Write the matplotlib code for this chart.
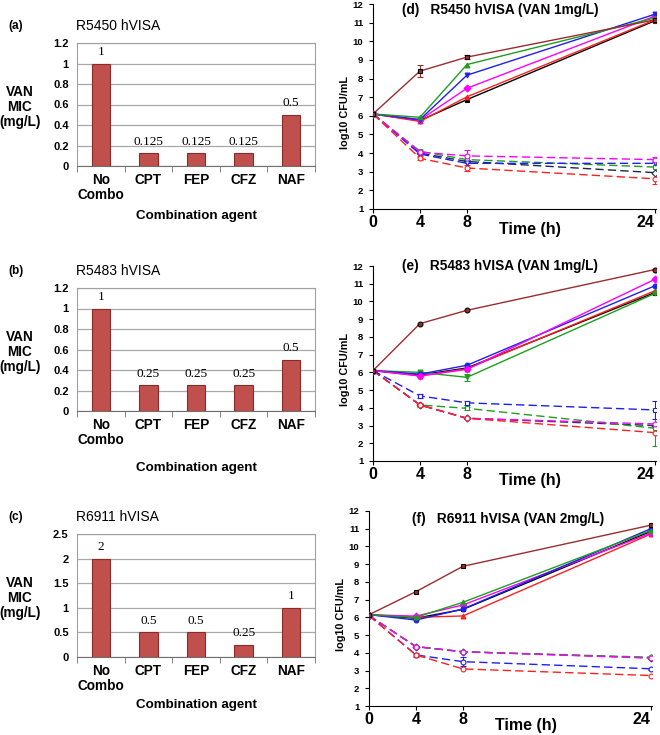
import matplotlib
matplotlib.use("Agg")
import matplotlib.pyplot as plt
import numpy as np

plt.rcParams['font.family'] = ['Liberation Sans', 'DejaVu Sans']

# ---------------- bar panel data (VAN MIC) ----------------
agents = ["No\nCombo", "CPT", "FEP", "CFZ", "NAF"]
mic_a = [1, 0.125, 0.125, 0.125, 0.5]
mic_b = [1, 0.25, 0.25, 0.25, 0.5]
mic_c = [2, 0.5, 0.5, 0.25, 1]
lab_a = ["1", "0.125", "0.125", "0.125", "0.5"]
lab_b = ["1", "0.25", "0.25", "0.25", "0.5"]
lab_c = ["2", "0.5", "0.5", "0.25", "1"]

# ---------------- time-kill data (log10 CFU/mL) ----------------
time_h = [0, 4, 8, 24]

# panel d
d_gc = [6.1, 8.4, 9.15, 11.15]
d_green = [6.1, 5.92, 8.75, 11.25]
d_blue = [6.1, 5.8, 8.18, 11.45]
d_magenta = [6.1, 5.78, 7.48, 11.35]
d_red = [6.1, 5.7, 7.02, 11.15]
d_black = [6.1, 5.75, 6.87, 11.1]
d_green_c = [6.1, 4.1, 3.65, 3.25]
d_blue_c = [6.1, 3.95, 3.45, 3.45]
d_magenta_c = [6.1, 4.05, 3.85, 3.65]
d_red_c = [6.1, 3.72, 3.2, 2.62]
d_navy_c = [6.1, 4.0, 3.55, 2.95]

# panel e
e_gc = [6.1, 8.75, 9.5, 11.8]
e_green = [6.1, 6.0, 5.72, 10.45]
e_blue = [6.1, 5.9, 6.4, 10.88]
e_magenta = [6.1, 5.8, 6.17, 11.25]
e_red = [6.1, 5.8, 6.2, 10.6]
e_black = [6.1, 5.85, 6.25, 10.5]
e_green_c = [6.1, 4.16, 3.97, 2.85]
e_blue_c = [6.1, 4.67, 4.28, 3.88]
e_magenta_c = [6.1, 4.16, 3.41, 3.09]
e_red_c = [6.1, 4.16, 3.41, 2.6]
e_navy_c = [6.1, 4.16, 3.41, 3.0]

# panel f
f_gc = [6.15, 7.45, 8.88, 11.2]
f_green = [6.15, 6.0, 6.85, 10.9]
f_blue = [6.15, 5.85, 6.47, 11.0]
f_magenta = [6.15, 6.07, 6.7, 10.75]
f_red = [6.15, 6.0, 6.08, 10.7]
f_black = [6.15, 5.95, 6.45, 10.85]
f_green_c = [6.1, 4.35, 4.06, 3.75]
f_blue_c = [6.1, 3.88, 3.5, 3.1]
f_magenta_c = [6.1, 4.35, 4.06, 3.7]
f_red_c = [6.1, 3.88, 3.09, 2.72]
f_navy_c = [6.1, 4.35, 4.06, 3.72]

# a few visible error bars
d_gc_err = [0, 0.3, 0.1, 0.1]
d_magenta_c_err = [0, 0.1, 0.3, 0.15]
d_red_c_err = [0, 0.1, 0.15, 0.3]
e_green_c_err = [0, 0.1, 0.1, 1.0]
e_blue_c_err = [0, 0.1, 0.1, 0.5]
e_green_err = [0, 0.1, 0.2, 0.1]
f_blue_c_err = [0, 0.1, 0.25, 0.05]

BAR_FACE = "#C0504D"
BAR_EDGE = "#8C2A28"
DARKRED = "#9B2D2D"
GREEN = "#1E9E1E"
BLUE = "#1F1FF0"
MAGENTA = "#FF00FF"
RED = "#FF2020"
NAVY = "#1A2A4A"

fig = plt.figure(figsize=(6.6, 7.35), dpi=100)
W, H = 660.0, 735.0


def px_axes(left, top, right, bottom):
    return fig.add_axes([left / W, 1 - bottom / H, (right - left) / W, (bottom - top) / H])


# ---------------- bar panels ----------------
def bar_panel(top, bottom, vals, labs, ymax, ystep, letter, title, xlab_off):
    ax = px_axes(77, top, 315, bottom)
    x = np.arange(len(agents))
    ax.bar(x, vals, width=0.39, color=BAR_FACE, edgecolor=BAR_EDGE, linewidth=0.8, zorder=3)
    for xi, v, t in zip(x, vals, labs):
        ax.annotate(t, (xi, v), xytext=(0, 4), textcoords="offset points",
                    ha="center", va="bottom", fontsize=9.5, family="Liberation Serif")
    ax.set_xlim(-0.5, 4.5)
    ax.set_ylim(0, ymax)
    ticks = np.arange(0, ymax + ystep / 2, ystep)
    ax.set_yticks(ticks)
    ax.set_yticklabels([("%g" % t) for t in ticks], fontsize=8, fontweight="bold")
    ax.yaxis.grid(True, color="#A8A8A8", linewidth=0.9, zorder=0)
    ax.set_axisbelow(True)
    ax.set_xticks(x)
    ax.set_xticklabels(agents, fontsize=9.8, fontweight="bold", linespacing=1.1)
    ax.set_xticks(np.arange(-0.5, 5, 1), minor=True)
    ax.tick_params(axis="x", which="major", length=0, pad=5)
    ax.tick_params(axis="x", which="minor", length=4, color="#707070")
    ax.tick_params(axis="y", length=0, pad=6)
    for s in ["top", "right", "left"]:
        ax.spines[s].set_color("#A0A0A0")
    ax.spines["bottom"].set_color("#707070")
    ax.text(0.5, xlab_off, "Combination agent", transform=ax.transAxes,
            ha="center", va="center", fontsize=9.6, fontweight="bold")
    ax.text(-0.24, 0.48, "VAN\nMIC\n(mg/L)", transform=ax.transAxes, ha="center",
            va="center", fontsize=9.8, fontweight="bold", linespacing=1.1)
    ytxt = 1 - (top - 17) / H
    fig.text(8 / W, ytxt, letter, fontsize=8.5, fontweight="bold", va="center")
    fig.text(76 / W, ytxt, title, fontsize=10, va="center")
    return ax


bar_panel(43, 166, mic_a, lab_a, 1.2, 0.2, "(a)", "R5450 hVISA", -0.41)
bar_panel(288, 411, mic_b, lab_b, 1.2, 0.2, "(b)", "R5483 hVISA", -0.46)
bar_panel(534, 657, mic_c, lab_c, 2.5, 0.5, "(c)", "R6911 hVISA", -0.39)


# ---------------- time-kill panels ----------------
def draw(ax, y, color, marker, dashed, err=None, filled=True, edge=None):
    ls = (0, (6, 3)) if dashed else "-"
    face = color if filled else "white"
    ax.errorbar(time_h, y, yerr=err, color=color, linestyle=ls, linewidth=1.0,
                marker=marker, markersize=3.5, markerfacecolor=face,
                markeredgecolor=edge or color, markeredgewidth=0.8,
                ecolor=color, elinewidth=0.8, capsize=2, zorder=3)


def kill_panel(left, top, right, bottom, title, tx, ty, series):
    ax = px_axes(left, top, right, bottom)
    for args in series:
        draw(ax, *args[:4], **args[4] if len(args) > 4 else {})
    ax.set_xlim(0, 24.1)
    ax.set_ylim(1, 12)
    ax.set_xticks(time_h)
    ax.set_xticklabels([str(t) for t in time_h], fontsize=11.5, fontweight="bold")
    ax.get_xticklabels()[-1].set_horizontalalignment("right")
    ax.set_yticks(range(1, 13))
    ax.set_yticklabels([str(t) for t in range(1, 13)], fontsize=6.8, fontweight="bold")
    ax.tick_params(axis="x", length=3, pad=1)
    ax.tick_params(axis="y", length=3, pad=4)
    ax.spines["top"].set_visible(False)
    ax.spines["right"].set_visible(False)
    ax.text(tx, ty, title, transform=ax.transAxes, ha="center", va="center",
            fontsize=9.8, fontweight="bold")
    ax.text(0.555, -0.1, "Time (h)", transform=ax.transAxes, ha="center",
            va="center", fontsize=11.5, fontweight="bold")
    ax.text(-0.1, 0.47, "log10 CFU/mL", transform=ax.transAxes, ha="center",
            va="center", rotation=90, fontsize=7.8, fontweight="bold")
    return ax


kill_panel(373, 4, 656, 209, "(d)   R5450 hVISA (VAN 1mg/L)", 0.45, 0.97, [
    (d_navy_c, NAVY, "D", True, {"filled": False}),
    (d_green_c, GREEN, "s", True, {"filled": False}),
    (d_blue_c, BLUE, "v", True, {"filled": False}),
    (d_magenta_c, MAGENTA, "o", True, {"filled": False, "err": d_magenta_c_err}),
    (d_red_c, RED, "o", True, {"filled": False, "err": d_red_c_err}),
    (d_black, "black", "s", False),
    (d_red, RED, "^", False),
    (d_magenta, MAGENTA, "D", False),
    (d_blue, BLUE, "v", False),
    (d_green, GREEN, "^", False),
    (d_gc, DARKRED, "s", False, {"err": d_gc_err, "edge": "black"}),
])

kill_panel(373, 266, 656, 461, "(e)   R5483 hVISA (VAN 1mg/L)", 0.45, 1.0, [
    (e_navy_c, NAVY, "D", True, {"filled": False}),
    (e_green_c, GREEN, "s", True, {"filled": False, "err": e_green_c_err}),
    (e_magenta_c, MAGENTA, "o", True, {"filled": False}),
    (e_red_c, RED, "o", True, {"filled": False}),
    (e_blue_c, BLUE, "s", True, {"filled": False, "err": e_blue_c_err}),
    (e_black, "black", "s", False),
    (e_red, RED, "^", False),
    (e_green, GREEN, "v", False, {"err": e_green_err}),
    (e_blue, BLUE, "o", False),
    (e_magenta, MAGENTA, "D", False),
    (e_gc, DARKRED, "o", False, {"edge": "black"}),
])

kill_panel(369, 511, 652, 706, "(f)   R6911 hVISA (VAN 2mg/L)", 0.49, 0.96, [
    (f_navy_c, NAVY, "D", True, {"filled": False}),
    (f_green_c, GREEN, "o", True, {"filled": False}),
    (f_magenta_c, MAGENTA, "o", True, {"filled": False}),
    (f_blue_c, BLUE, "o", True, {"filled": False, "err": f_blue_c_err}),
    (f_red_c, RED, "o", True, {"filled": False}),
    (f_black, "black", "s", False),
    (f_red, RED, "^", False),
    (f_magenta, MAGENTA, "D", False),
    (f_blue, BLUE, "o", False),
    (f_green, GREEN, "^", False),
    (f_gc, DARKRED, "s", False, {"edge": "black"}),
])

fig.savefig("out.png", dpi=100)
